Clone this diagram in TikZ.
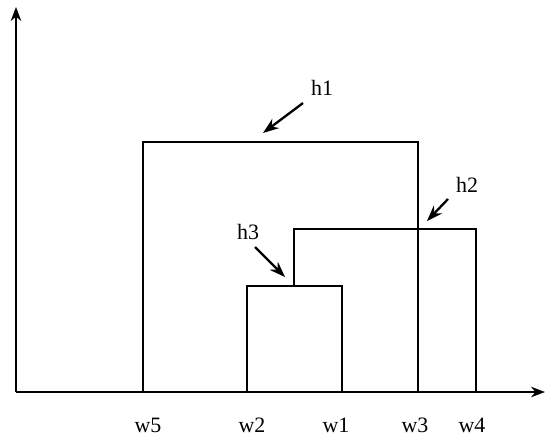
\documentclass[tikz,border=0pt]{standalone}
\usepackage{fontspec}
\setmainfont{Liberation Serif}
\usetikzlibrary{arrows.meta}

\begin{document}
\begin{tikzpicture}[x=0.02cm,y=-0.02cm,line width=1.1pt,
    lbl/.style={font=\fontsize{12.5}{15}\selectfont,inner sep=0pt},
    pointer/.style={-{Stealth[length=9pt,width=6.5pt]},line width=1.3pt}]
  \useasboundingbox (0,0) rectangle (546,437);
  % axes
  \coordinate (origin) at (16,392);
  \coordinate (ytip) at (16,7);
  \coordinate (xtip) at (545,392);
  \draw[-{Stealth[length=8pt,width=6pt]}] (origin) -- (ytip);
  \draw[-{Stealth[length=8pt,width=6pt]}] (origin) -- (xtip);

  % merge levels
  \draw (143,392) |- (418,142) -- (418,392);
  \draw (294,286) |- (476,229) -- (476,392);
  \draw (247,392) |- (342,286) -- (342,392);

  % leaves
  \node[lbl] (w5) at (148,425) {w5};
  \node[lbl] (w2) at (252,425) {w2};
  \node[lbl] (w1) at (336,425) {w1};
  \node[lbl] (w3) at (415,425) {w3};
  \node[lbl] (w4) at (472,425) {w4};

  % heights
  \node[lbl] (h1) at (322,88) {h1};
  \node[lbl] (h2) at (467,185) {h2};
  \node[lbl] (h3) at (248,232) {h3};
  \coordinate (h1tip) at (263,133);
  \coordinate (h2tip) at (427,221);
  \coordinate (h3tip) at (285,277);
  \draw[pointer] (303,103) -- (h1tip);
  \draw[pointer] (448,199) -- (h2tip);
  \draw[pointer] (255,247) -- (h3tip);
\end{tikzpicture}
\end{document}
